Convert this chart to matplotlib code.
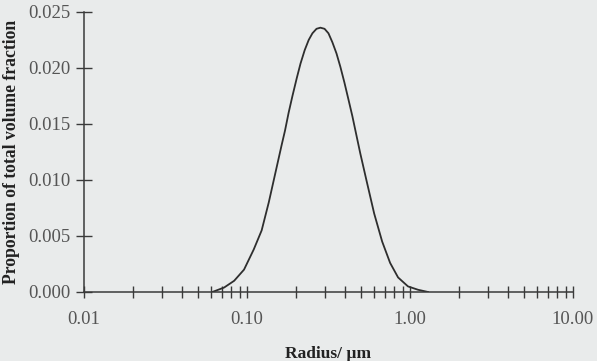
import matplotlib
matplotlib.use("Agg")
import matplotlib.pyplot as plt
from matplotlib.ticker import LogLocator, FixedFormatter, FixedLocator, NullFormatter

# values
radius_um = [0.0613, 0.0724, 0.0834, 0.0959, 0.110, 0.123, 0.136, 0.146, 0.163, 0.171,
             0.180, 0.190, 0.202, 0.213, 0.226, 0.239, 0.252, 0.267, 0.282, 0.299,
             0.316, 0.334, 0.354, 0.374, 0.396, 0.419, 0.443, 0.469, 0.495, 0.540,
             0.603, 0.675, 0.755, 0.845, 0.972, 1.12, 1.29]
vol_fraction = [0.0000, 0.0004, 0.0010, 0.0020, 0.0038, 0.0055, 0.0080, 0.0100, 0.0131, 0.0144,
                0.0160, 0.0175, 0.0191, 0.0204, 0.0216, 0.0225, 0.0231, 0.0235, 0.0236, 0.0235,
                0.0231, 0.0223, 0.0213, 0.0201, 0.0187, 0.0172, 0.0157, 0.0140, 0.0124, 0.0100,
                0.0070, 0.0045, 0.0026, 0.0013, 0.0005, 0.0002, 0.0000]

x_ticks = [0.01, 0.1, 1, 10]
x_ticklabels = ["0.01", "0.10", "1.00", "10.00"]
y_ticks = [0.000, 0.005, 0.010, 0.015, 0.020, 0.025]
y_ticklabels = ["0.000", "0.005", "0.010", "0.015", "0.020", "0.025"]

plt.rcParams['font.family'] = ['Liberation Serif', 'DejaVu Serif']
bg = '#e9ebeb'
axcol = '#3a3a3a'
txtcol = '#555555'

fig = plt.figure(figsize=(5.97, 3.61), dpi=100, facecolor=bg)
ax = fig.add_axes([84 / 597, 69 / 361, (573 - 84) / 597, (349 - 69) / 361])
ax.set_facecolor(bg)

ax.plot(radius_um, vol_fraction, color='#2e2e2e', lw=1.3, solid_joinstyle='round')

ax.set_xscale('log')
ax.set_xlim(0.01, 10)
ax.set_ylim(0, 0.025)

for s in ['top', 'right']:
    ax.spines[s].set_visible(False)
for s in ['left', 'bottom']:
    ax.spines[s].set_color(axcol)
    ax.spines[s].set_linewidth(1.1)

ax.xaxis.set_major_locator(FixedLocator(x_ticks))
ax.xaxis.set_major_formatter(FixedFormatter(x_ticklabels))
ax.xaxis.set_minor_locator(LogLocator(base=10, subs=range(2, 10)))
ax.xaxis.set_minor_formatter(NullFormatter())
ax.set_yticks(y_ticks)
ax.set_yticklabels(y_ticklabels)

ax.tick_params(axis='x', which='both', direction='inout', length=9, width=1,
               color=axcol, labelsize=13.5, labelcolor=txtcol, pad=9)
ax.tick_params(axis='y', which='major', direction='inout', length=12, width=1,
               color=axcol, labelsize=13.5, labelcolor=txtcol, pad=4)

ax.set_xlabel("Radius/ \u00b5m", fontsize=12.5, fontweight='bold', color='#222222', labelpad=13)
ax.set_ylabel("Proportion of total volume fraction", fontsize=12.7, fontweight='bold',
              color='#222222', labelpad=6)

fig.savefig("out.png", dpi=100, facecolor=bg)
